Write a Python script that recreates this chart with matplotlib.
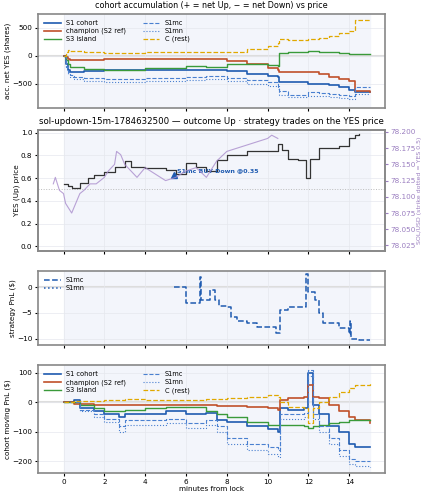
import numpy as np
import matplotlib
matplotlib.use("Agg")
import matplotlib.pyplot as plt

plt.rcParams['font.size'] = 5.2

# --- panel 1: accumulated net YES shares (steps) ---
acc_t = [0, 0.1, 0.2, 0.3, 0.5, 1, 2, 4, 6, 7, 8, 9, 10, 10.5, 10.55, 11, 12, 12.5, 13, 13.5, 14, 14.3, 15]
acc_c = [0, 60, 100, 90, 80, 70, 50, 60, 60, 60, 70, 120, 180, 220, 300, 290, 300, 310, 350, 400, 450, 650, 660]
acc_champ = [0, -30, -60, -80, -80, -80, -60, -60, -60, -60, -100, -150, -220, -260, -300, -300, -300, -330, -380, -420, -460, -640, -650]
acc_s3 = [0, -80, -150, -200, -210, -230, -250, -220, -190, -200, -140, -150, -170, -190, 50, 60, 90, 70, 60, 40, 30, 30, 30]
acc_s1 = [0, -150, -250, -300, -290, -270, -260, -260, -260, -250, -280, -320, -360, -380, -480, -480, -500, -510, -520, -560, -620, -660, -660]
acc_s1mc = [0, -200, -300, -350, -380, -400, -420, -400, -380, -370, -400, -440, -480, -550, -640, -700, -660, -670, -680, -700, -720, -570, -570]
acc_s1mn = [0, -220, -330, -380, -420, -450, -480, -460, -440, -420, -460, -500, -540, -600, -700, -740, -720, -730, -740, -760, -780, -680, -680]

# --- panel 2: YES price and SOL/USD ---
yes_t = [0, 0.2, 0.4, 0.8, 1.2, 1.5, 2, 2.5, 3, 3.3, 4, 5, 5.5, 6, 6.5, 7, 7.5, 8, 9, 10.5, 10.7, 11, 11.5, 11.9, 12.1, 12.5, 13.5, 14, 14.3, 14.5]
yes_p = [0.55, 0.53, 0.51, 0.56, 0.60, 0.63, 0.65, 0.70, 0.75, 0.70, 0.69, 0.67, 0.64, 0.73, 0.70, 0.66, 0.76, 0.80, 0.84, 0.90, 0.85, 0.77, 0.76, 0.60, 0.77, 0.86, 0.88, 0.95, 0.98, 0.99]
sol_t = [-0.5, -0.4, -0.2, 0, 0.1, 0.2, 0.4, 0.6, 0.8, 1, 1.3, 1.6, 2, 2.2, 2.5, 2.6, 2.8, 3, 3.3, 3.6, 4, 4.5, 5, 5.5, 6, 6.5, 7, 7.5, 8, 8.5, 9, 9.5, 10, 10.2, 10.5]
sol_p = [78.12, 78.13, 78.11, 78.105, 78.09, 78.085, 78.075, 78.09, 78.105, 78.11, 78.12, 78.12, 78.13, 78.14, 78.15, 78.17, 78.165, 78.15, 78.14, 78.13, 78.145, 78.135, 78.125, 78.13, 78.14, 78.145, 78.13, 78.155, 78.17, 78.175, 78.18, 78.185, 78.19, 78.195, 78.19]
trade_t, trade_p = 5.4, 0.63

# --- panel 3: strategy PnL ---
st_t = [5.4, 6, 6.01, 6.7, 6.71, 6.75, 7, 7.2, 7.4, 7.6, 8, 8.2, 8.5, 9, 9.5, 10, 10.4, 10.6, 11, 11.8, 11.9, 12, 12.3, 12.5, 12.7, 13.2, 13.5, 14, 14.05, 14.1, 14.5, 15]
st_s1mc = [0, 0, -3, -3, 2, -2.5, -2.5, -0.5, -2.5, -3.7, -3.8, -5.8, -6.5, -7, -7.7, -7.8, -8.8, -4.5, -3.8, -3.8, 2.5, -1, -2.5, -5, -7, -7, -8, -9, -6.5, -10, -10.3, -10.3]

# --- panel 4: cohort moving PnL ---
pnl_t = [0, 0.5, 0.8, 1.5, 2, 2.7, 3, 4, 5, 6, 7, 7.5, 8, 9, 10, 10.5, 10.6, 11, 11.8, 12, 12.2, 12.5, 13, 13.5, 14, 14.3, 15]
pnl_c = [0, 5, 5, 6, 8, 10, 12, 8, 9, 10, 12, 13, 15, 20, 25, 20, 0, -15, -20, -70, -20, 0, 20, 35, 50, 60, 65]
pnl_champ = [0, -5, -5, -7, -8, -9, -10, -10, -9, -8, -10, -11, -12, -16, -20, -25, 10, 15, 18, 60, 20, 15, -10, -30, -50, -60, -70]
pnl_s3 = [0, 0, -10, -20, -30, -28, -25, -20, -15, -15, -30, -40, -50, -65, -75, -75, -75, -75, -80, -85, -80, -75, -70, -65, -60, -60, -60]
pnl_s1 = [0, 10, -20, -30, -40, -50, -40, -40, -30, -40, -35, -60, -65, -80, -90, -100, -20, -25, -20, 100, -10, -40, -80, -100, -140, -150, -150]
pnl_s1mc = [0, 0, -25, -40, -55, -80, -60, -60, -55, -70, -60, -80, -120, -140, -150, -160, -40, -40, -35, 110, -40, -80, -120, -160, -190, -200, -200]
pnl_s1mn = [0, 0, -30, -50, -65, -100, -75, -75, -70, -85, -75, -100, -140, -160, -175, -185, -55, -55, -50, 90, -55, -100, -140, -180, -210, -215, -220]

c_s1 = '#1f5bb0'
c_light = '#4a80d0'
c_champ = '#c0502a'
c_s3 = '#3a9a3a'
c_c = '#e0a800'

fig = plt.figure(figsize=(4.27, 5.0), dpi=100)
boxes = [(14, 108), (130, 251), (271, 345), (365, 473)]
axes = []
for top, bot in boxes:
    ax = fig.add_axes([38 / 427, 1 - bot / 500, 347 / 427, (bot - top) / 500])
    ax.set_xlim(-1.25, 15.75)
    ax.axvspan(0, 15, color='#f3f5fb', zorder=0)
    ax.grid(True, color='#e6e8ee', lw=0.5)
    ax.set_xticks(range(0, 15, 2))
    ax.tick_params(length=2.5, pad=1.5)
    for s in ax.spines.values():
        s.set_color('#888888')
        s.set_linewidth(1.2)
    axes.append(ax)
ax1, ax2, ax3, ax4 = axes


def cohort_lines(ax, t, s1, champ, s3, s1mc, s1mn, c):
    ax.plot(t, s1, drawstyle='steps-post', color=c_s1, lw=1.2, label='S1 cohort')
    ax.plot(t, champ, drawstyle='steps-post', color=c_champ, lw=1.2, label='champion (S2 ref)')
    ax.plot(t, s3, drawstyle='steps-post', color=c_s3, lw=1.0, label='S3 island')
    ax.plot(t, s1mc, drawstyle='steps-post', color=c_light, lw=0.8, ls='--', label='S1mc')
    ax.plot(t, s1mn, drawstyle='steps-post', color=c_light, lw=0.8, ls=':', label='S1mn')
    ax.plot(t, c, drawstyle='steps-post', color=c_c, lw=0.9, ls='--', label='C (rest)')
    ax.axhline(0, color='#dddddd', lw=1.5, zorder=1)
    ax.legend(loc='upper left', ncol=2, fontsize=4.8, frameon=False,
              handlelength=2.5, columnspacing=2.5, labelspacing=0.3)


cohort_lines(ax1, acc_t, acc_s1, acc_champ, acc_s3, acc_s1mc, acc_s1mn, acc_c)
ax1.set_ylim(-940, 750)
ax1.set_ylabel('acc. net YES (shares)', labelpad=1)
ax1.set_title('cohort accumulation (+ = net Up, \u2212 = net Down) vs price', fontsize=5.8, pad=4)
ax1.set_xticklabels([])

ax2.plot(yes_t, yes_p, drawstyle='steps-post', color='#333333', lw=0.9, zorder=3)
ax2.axhline(0.5, color='#bbbbbb', lw=0.7, ls=':')
ax2.plot(trade_t, trade_p, marker='^', color=c_s1, ms=5, zorder=4)
ax2.annotate('S1mc BUY Down @0.35', (trade_t, trade_p), xytext=(2, 2), textcoords='offset points',
             color=c_s1, fontsize=4.5, fontweight='bold')
ax2.set_ylim(-0.04, 1.022)
ax2.set_ylabel('YES (Up) price', labelpad=1)
ax2.set_title('sol-updown-15m-1784632500 \u2014 outcome Up \u00b7 strategy trades on the YES price', fontsize=6.2, pad=4)
ax2.set_xticklabels([])
ax2b = ax2.twinx()
ax2b.plot(sol_t, sol_p, color='#a98ccc', lw=0.8, alpha=0.8)
ax2b.set_ylim(78.0165, 78.203)
ax2b.set_ylabel('SOL/USD (strike dotted = YES 0.5)', color='#9b7fc0', fontsize=4.5, labelpad=1)
ax2b.tick_params(axis='y', colors='#9b7fc0', length=2.5, pad=1.5)
for s in ax2b.spines.values():
    s.set_color('#888888')
    s.set_linewidth(1.2)

ax3.plot(st_t, st_s1mc, drawstyle='steps-post', color=c_s1, lw=1.1, ls='--', label='S1mc')
ax3.plot([], [], color=c_s1, lw=1.1, ls=':', label='S1mn')
ax3.axhline(0, color='#dddddd', lw=1.5, zorder=1)
ax3.set_ylim(-11.2, 3.1)
ax3.set_ylabel('strategy PnL ($)', labelpad=1)
ax3.legend(loc='upper left', fontsize=4.8, frameon=False, handlelength=2.5, labelspacing=0.3)
ax3.set_xticklabels([])

cohort_lines(ax4, pnl_t, pnl_s1, pnl_champ, pnl_s3, pnl_s1mc, pnl_s1mn, pnl_c)
ax4.set_ylim(-239, 127)
ax4.set_ylabel('cohort moving PnL ($)', labelpad=1)
ax4.set_xlabel('minutes from lock', labelpad=1)

fig.savefig('out.png', dpi=100)
